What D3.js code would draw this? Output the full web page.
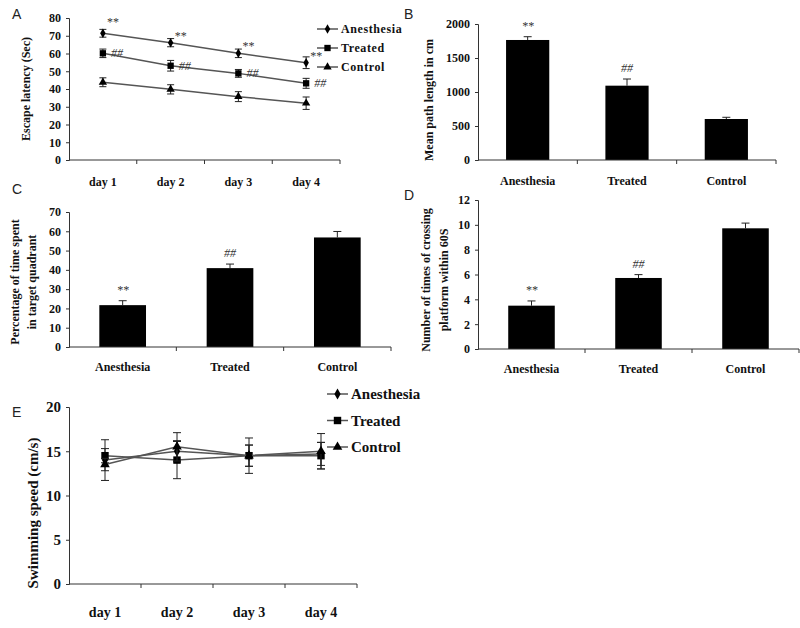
<!DOCTYPE html>
<html><head><meta charset="utf-8">
<script src="https://cdn.jsdelivr.net/npm/d3@7"></script>
<style>body{margin:0;background:#fff}svg{display:block}</style>
</head><body>
<svg id="c" width="800" height="628"></svg>
<script>
// ---------- data ----------
const days = ["day 1","day 2","day 3","day 4"];
const groups = ["Anesthesia","Treated","Control"];
// Panel A: escape latency (sec)
const latAnesthesia = [71.4, 66.1, 60.1, 54.8];
const latAnesthesiaErr = [2.2, 2.3, 2.4, 3.3];
const latTreated = [60.1, 53.1, 48.8, 43.2];
const latTreatedErr = [2.4, 3.0, 2.2, 2.8];
const latControl = [43.8, 39.8, 35.7, 32.0];
const latControlErr = [2.5, 2.6, 2.8, 3.5];
const latAnesthesiaMarks = ["**","**","**","**"];
const latTreatedMarks = ["##","##","##","##"];
const latTicks = [0,10,20,30,40,50,60,70,80];
// Panel B: mean path length
const pathLen = [1765, 1093, 603];
const pathLenErr = [48, 98, 25];
const pathMarks = ["**","##",""];
const pathTicks = [0,500,1000,1500,2000];
// Panel C: percentage of time in target quadrant
const pctTime = [21.7, 40.9, 56.8];
const pctTimeErr = [2.3, 2.1, 3.1];
const pctMarks = ["**","##",""];
const pctTicks = [0,10,20,30,40,50,60,70];
// Panel D: crossings
const crossings = [3.49, 5.72, 9.72];
const crossingsErr = [0.38, 0.27, 0.42];
const crossMarks = ["**","##",""];
const crossTicks = [0,2,4,6,8,10,12];
// Panel E: swimming speed
const spdAnesthesia = [14.0, 15.0, 14.5, 14.7];
const spdAnesthesiaErr = [2.3, 1.2, 1.2, 1.3];
const spdTreated = [14.5, 14.0, 14.5, 14.5];
const spdTreatedErr = [0.8, 2.1, 2.0, 1.5];
const spdControl = [13.5, 15.5, 14.5, 15.0];
const spdControlErr = [0.7, 1.6, 1.2, 2.0];
const spdTicks = [0,5,10,15,20];

// ---------- helpers ----------
const svg = d3.select("#c");
const SERIF = "'Liberation Serif','Times New Roman',serif";
const SANS = "'Liberation Sans',Arial,sans-serif";
const AX = "#333";

function letter(t,x,y){
  svg.append("text").attr("x",x).attr("y",y).attr("font-family",SANS)
    .attr("font-size",14).attr("fill","#222").text(t);
}
function yAxis(g, y, x0, ticks, fs){
  const a = d3.axisLeft(y).tickValues(ticks).tickSize(3).tickPadding(5).tickFormat(d3.format("d"));
  const gg = g.append("g").attr("transform",`translate(${x0},0)`).call(a);
  gg.select(".domain").attr("stroke",AX);
  gg.selectAll(".tick line").attr("stroke",AX);
  gg.selectAll("text").attr("font-family",SERIF).attr("font-weight","bold").attr("font-size",fs).attr("fill","#111");
}
function xAxis(g, xb, y0, fs, labDy){
  const r = xb.range();
  g.append("line").attr("x1",r[0]).attr("x2",r[1]).attr("y1",y0).attr("y2",y0).attr("stroke",AX);
  const edges = xb.domain().map(d=>xb(d)-xb.step()*xb.paddingOuter()).slice(1).concat([r[1]]);
  g.selectAll(null).data(edges).enter().append("line")
    .attr("x1",d=>d).attr("x2",d=>d).attr("y1",y0).attr("y2",y0+4).attr("stroke",AX);
  g.selectAll(null).data(xb.domain()).enter().append("text")
    .attr("x",d=>xb(d)+xb.bandwidth()/2).attr("y",y0+labDy).attr("text-anchor","middle")
    .attr("font-family",SERIF).attr("font-weight","bold").attr("font-size",fs).attr("fill","#111").text(d=>d);
}
function yTitle(lines, cx, cy, fs, lh){
  const t = svg.append("text").attr("transform",`translate(${cx},${cy}) rotate(-90)`)
    .attr("text-anchor","middle").attr("font-family",SERIF).attr("font-weight","bold")
    .attr("font-size",fs).attr("fill","#111");
  lines.forEach((l,i)=>t.append("tspan").attr("x",0).attr("dy",i?lh:0).text(l));
}
function marker(g, type, x, y, s){
  const sym = type==="diamond"?d3.symbolDiamond:type==="square"?d3.symbolSquare:d3.symbolTriangle;
  g.append("path").attr("d",d3.symbol().type(sym).size(s)()).attr("transform",`translate(${x},${y})`).attr("fill","#000");
}
function lineSeries(g, x, y, vals, errs, type, s, cap){
  const pts = vals.map((v,i)=>[x(days[i]), y(v)]);
  g.append("path").attr("d",d3.line()(pts)).attr("fill","none").attr("stroke","#555").attr("stroke-width",1.5);
  vals.forEach((v,i)=>{
    const px = x(days[i]);
    g.append("line").attr("x1",px).attr("x2",px).attr("y1",y(v+errs[i])).attr("y2",y(v-errs[i])).attr("stroke","#222");
    [v+errs[i], v-errs[i]].forEach(e=>g.append("line").attr("x1",px-cap).attr("x2",px+cap)
      .attr("y1",y(e)).attr("y2",y(e)).attr("stroke","#222"));
  });
  pts.forEach(p=>marker(g,type,p[0],p[1],s));
}
function barPanel(x0,x1,yTop,yBot,ticks,vals,errs,marks,labDy,fs){
  const g = svg.append("g");
  const xb = d3.scaleBand().domain(groups).range([x0,x1]).paddingInner(0.565).paddingOuter(0.2825);
  const y = d3.scaleLinear().domain([0,ticks[ticks.length-1]]).range([yBot,yTop]);
  vals.forEach((v,i)=>{
    const cx = xb(groups[i])+xb.bandwidth()/2;
    g.append("line").attr("x1",cx).attr("x2",cx).attr("y1",y(v)).attr("y2",y(v+errs[i])).attr("stroke","#222");
    g.append("line").attr("x1",cx-4).attr("x2",cx+4).attr("y1",y(v+errs[i])).attr("y2",y(v+errs[i])).attr("stroke","#222");
    g.append("rect").attr("x",xb(groups[i])).attr("width",xb.bandwidth()).attr("y",y(v)).attr("height",yBot-y(v)).attr("fill","#000");
    if(marks[i]) g.append("text").attr("x",cx).attr("y",y(v+errs[i])-7).attr("text-anchor","middle")
      .attr("font-family",SERIF).attr("font-style","italic").attr("font-size",12).attr("fill","#333").text(marks[i]);
  });
  yAxis(g,y,x0,ticks,fs);
  xAxis(g,xb,yBot,12,labDy);
}

// ---------- Panel A ----------
letter("A",12,19);
{
  const g = svg.append("g");
  const x0=69,x1=340,yTop=18,yBot=160;
  const xb = d3.scaleBand().domain(days).range([x0,x1]);
  const xc = d=>xb(d)+xb.bandwidth()/2;
  const y = d3.scaleLinear().domain([0,80]).range([yBot,yTop]);
  lineSeries(g,xc,y,latAnesthesia,latAnesthesiaErr,"diamond",26,3.5);
  lineSeries(g,xc,y,latTreated,latTreatedErr,"square",40,3.5);
  lineSeries(g,xc,y,latControl,latControlErr,"triangle",30,3.5);
  latAnesthesiaMarks.forEach((m,i)=>g.append("text").attr("x",xc(days[i])+4).attr("y",y(latAnesthesia[i])-(i?3:7))
    .attr("font-family",SERIF).attr("font-size",12).attr("fill","#333").text(m));
  latTreatedMarks.forEach((m,i)=>g.append("text").attr("x",xc(days[i])+8).attr("y",y(latTreated[i])+4)
    .attr("font-family",SERIF).attr("font-style","italic").attr("font-size",12).attr("fill","#333").text(m));
  yAxis(g,y,x0,latTicks,12);
  xAxis(g,xb,yBot,12,26);
  // legend
  const types=["diamond","square","triangle"], sizes=[26,40,30];
  groups.forEach((n,i)=>{
    const ly = 29 + i*19;
    g.append("line").attr("x1",317).attr("x2",338).attr("y1",ly).attr("y2",ly).attr("stroke","#555").attr("stroke-width",1.5);
    marker(g,types[i],327.5,ly,sizes[i]);
    g.append("text").attr("x",341).attr("y",ly+4).attr("font-family",SERIF).attr("font-weight","bold")
      .attr("font-size",12).attr("letter-spacing",0.6).attr("fill","#111").text(n);
  });
  yTitle(["Escape latency (Sec)"],30,89,12,0);
}

// ---------- Panel B ----------
letter("B",404,19);
barPanel(478,776,24,160,pathTicks,pathLen,pathLenErr,pathMarks,25,12);
yTitle(["Mean path length in cm"],433,100,12,0);

// ---------- Panel C ----------
letter("C",12,194);
barPanel(69,391,212,347,pctTicks,pctTime,pctTimeErr,pctMarks,24,12);
yTitle(["Percentage of time spent","in target quadrant"],19,282,12,17);

// ---------- Panel D ----------
letter("D",404,200);
barPanel(478,799,200,349,crossTicks,crossings,crossingsErr,crossMarks,24,12);
yTitle(["Number of times of crossing","platform within 60S"],430,280,12,18);

// ---------- Panel E ----------
letter("E",12,417);
{
  const g = svg.append("g");
  const x0=69,x1=357,yTop=407,yBot=584;
  const xb = d3.scaleBand().domain(days).range([x0,x1]);
  const xc = d=>xb(d)+xb.bandwidth()/2;
  const y = d3.scaleLinear().domain([0,20]).range([yBot,yTop]);
  lineSeries(g,xc,y,spdAnesthesia,spdAnesthesiaErr,"diamond",34,4);
  lineSeries(g,xc,y,spdTreated,spdTreatedErr,"square",55,4);
  lineSeries(g,xc,y,spdControl,spdControlErr,"triangle",40,4);
  yAxis(g,y,x0,spdTicks,15);
  xAxis(g,xb,yBot,14,33);
  const types=["diamond","square","triangle"], sizes=[34,55,40];
  groups.forEach((n,i)=>{
    const ly = 394 + i*26.5;
    g.append("line").attr("x1",327).attr("x2",348).attr("y1",ly).attr("y2",ly).attr("stroke","#555").attr("stroke-width",1.5);
    marker(g,types[i],337.5,ly,sizes[i]);
    g.append("text").attr("x",351).attr("y",ly+5).attr("font-family",SERIF).attr("font-weight","bold")
      .attr("font-size",15).attr("fill","#111").text(n);
  });
  yTitle(["Swimming speed (cm/s)"],38,513,15,0);
}
</script>
</body></html>
